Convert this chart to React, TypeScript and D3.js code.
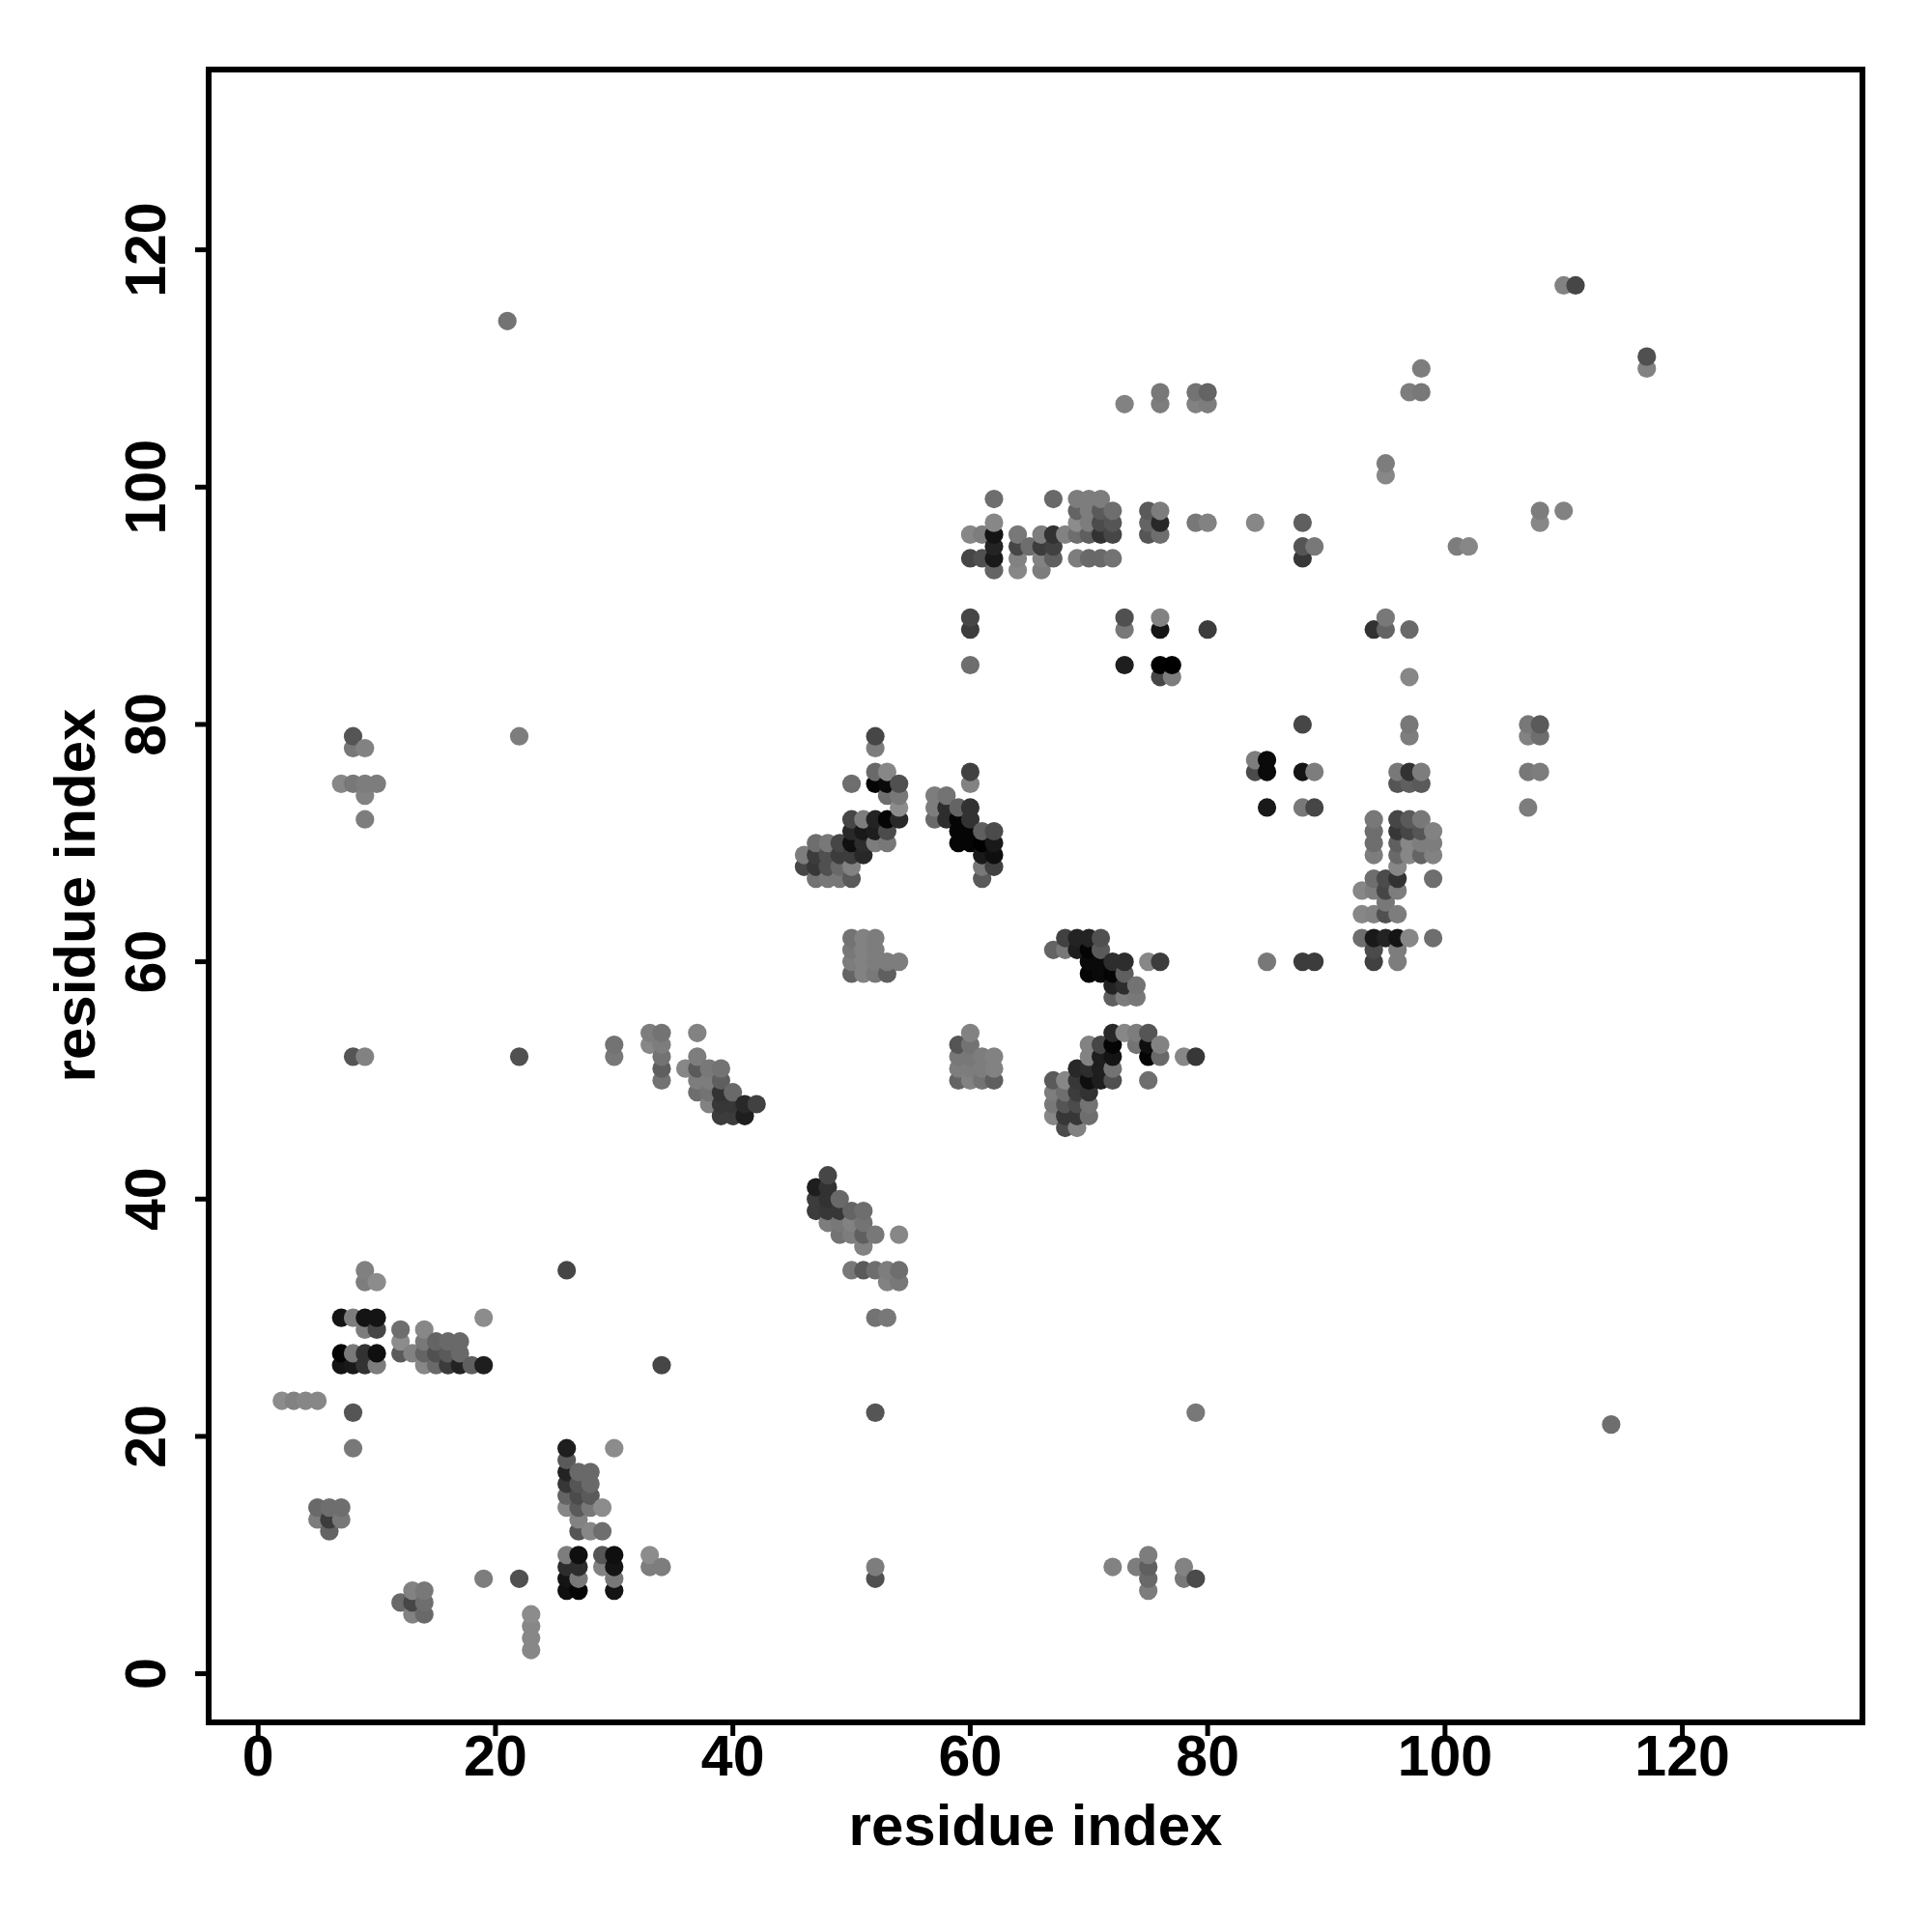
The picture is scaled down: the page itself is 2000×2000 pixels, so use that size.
import React from "react";
import * as d3 from "d3";

type P = [number, number, number];

const lowerLeft: P[] = [
  [9,34,128],[9,33,125],[10,33,140],[7,30,20],[8,30,125],[9,30,20],[10,30,20],[9,29,125],[10,29,70],
  [7,27,5],[8,27,120],[9,27,50],[10,27,15],[7,26,20],[8,26,25],[9,26,50],[10,26,125],
  [12,29,110],[12,28,140],[12,27,90],[13,27,130],[14,29,135],[14,28,120],[14,27,100],[14,26,135],
  [15,28,100],[15,27,80],[15,26,105],[16,28,105],[16,27,90],[16,26,60],[17,28,105],[17,27,105],[17,26,35],
  [18,26,95],[19,30,140],[19,26,30],[34,26,70],[26,34,70],[2,23,140],[3,23,130],[4,23,135],[5,23,135],
  [8,22,85],[8,19,120],[5,14,105],[6,14,110],[7,14,110],[5,13,125],[6,13,60],[7,13,120],[6,12,100],
  [26,19,30],[26,18,90],[26,17,35],[26,16,55],[26,15,100],[26,14,135],
  [27,17,105],[27,16,85],[27,15,75],[27,14,90],[27,13,130],[27,12,85],
  [28,17,105],[28,16,105],[28,15,90],[28,14,120],[28,12,135],[29,14,140],[29,12,110],[30,19,140],
  [26,10,125],[27,10,15],[29,10,85],[30,10,15],[26,9,45],[27,9,45],[29,9,130],[30,9,20],
  [26,8,20],[27,8,120],[30,8,120],[19,8,125],[22,8,80],[26,7,15],[27,7,5],[30,7,20],
  [33,10,140],[33,9,125],[34,9,125],[13,7,130],[14,7,120],[12,6,105],[13,6,70],[14,6,110],[13,5,130],[14,5,105],
  [23,5,140],[23,4,135],[23,3,135],[23,2,135],
];

const middleDiagonal: P[] = [
  [30,53,115],[30,52,120],[33,54,125],[34,54,115],[33,53,135],[34,53,125],[34,52,115],[34,51,95],[34,50,115],
  [37,54,130],[37,52,125],[36,51,135],[37,51,90],[38,51,120],[39,51,115],[37,50,125],[38,50,125],[39,50,95],
  [37,49,110],[38,49,115],[39,49,50],[40,49,105],[38,48,130],[39,48,55],[40,48,55],[41,48,40],[42,48,65],
  [39,47,60],[40,47,60],[41,47,30],[48,42,70],[47,41,30],[48,41,50],[47,40,60],[48,40,50],[49,40,105],
  [47,39,60],[48,39,55],[49,39,55],[50,39,100],[51,39,110],[48,38,125],[49,38,120],[50,38,130],[51,38,115],
  [49,37,115],[50,37,125],[51,37,95],[52,37,120],[54,37,135],[51,36,130],
  [50,34,120],[51,34,90],[52,34,110],[53,34,125],[54,34,110],[53,33,130],[54,33,120],[52,30,115],[53,30,120],
];

const centreBlocks: P[] = [
  [60,54,130],[59,53,85],[60,53,115],[59,52,120],[60,52,120],[61,52,125],[62,52,130],
  [59,51,125],[60,51,125],[61,51,125],[62,51,130],[59,50,100],[60,50,130],[61,50,115],[62,50,95],
  [50,62,115],[51,62,130],[52,62,125],[50,61,120],[51,61,130],[52,61,125],
  [50,60,125],[51,60,130],[52,60,125],[53,60,125],[54,60,125],[50,59,100],[51,59,130],[52,59,120],[53,59,95],
  [68,62,65],[69,62,35],[70,62,35],[71,62,80],[67,61,100],[68,61,120],[69,61,30],[70,61,5],[71,61,90],
  [70,60,10],[71,60,10],[72,60,45],[73,60,45],[75,60,135],[76,60,60],[70,59,5],[71,59,10],[72,59,5],[73,59,95],
  [72,58,35],[73,58,45],[74,58,115],[72,57,95],[73,57,125],[74,57,120],
  [72,54,40],[73,54,135],[74,54,125],[75,54,85],[70,53,130],[71,53,70],[72,53,5],[74,53,115],[75,53,15],[76,53,130],
  [70,52,130],[71,52,30],[72,52,20],[75,52,5],[76,52,105],[78,52,135],[79,52,55],
  [69,51,40],[70,51,45],[71,51,30],[72,51,115],[67,50,90],[68,50,135],[69,50,55],[70,50,15],[71,50,30],[72,50,80],[75,50,110],
  [67,49,125],[68,49,110],[69,49,60],[70,49,50],[67,48,120],[68,48,85],[69,48,75],[70,48,115],
  [67,47,135],[68,47,55],[69,47,55],[70,47,110],[68,46,75],[69,46,130],
];

const upperDiagonal: P[] = [
  [52,79,70],[52,78,125],[52,76,105],[53,76,135],[50,75,110],[52,75,5],[53,75,10],[54,75,80],[53,74,110],[54,74,120],[54,73,140],
  [50,72,70],[51,72,125],[52,72,35],[53,72,5],[54,72,40],[50,71,40],[51,71,25],[52,71,30],[53,71,75],
  [47,70,110],[48,70,120],[49,70,70],[50,70,15],[51,70,45],[52,70,125],[53,70,120],
  [46,69,125],[47,69,60],[48,69,80],[49,69,60],[50,69,60],[51,69,40],[46,68,70],[47,68,55],[48,68,80],[49,68,105],[50,68,130],
  [47,67,115],[48,67,120],[49,67,120],[50,67,90],
  [60,76,65],[60,75,130],[57,74,125],[58,74,115],[57,73,125],[58,73,45],[59,73,100],[60,73,50],
  [57,72,105],[58,72,45],[59,72,5],[60,72,50],[59,71,5],[60,71,5],[61,71,95],[62,71,75],
  [59,70,5],[60,70,5],[61,70,0],[62,70,25],[61,69,25],[62,69,15],[61,68,120],[62,68,65],[61,67,90],
];

const upperBand: P[] = [
  [62,99,110],[67,99,105],[69,99,125],[70,99,125],[71,99,125],[69,98,100],[70,98,125],[71,98,90],[72,98,110],[75,98,90],[76,98,125],
  [62,97,135],[69,97,140],[70,97,125],[71,97,75],[72,97,85],[75,97,100],[76,97,40],[79,97,120],[80,97,130],[84,97,135],[88,97,95],
  [60,96,135],[61,96,125],[62,96,20],[64,96,120],[66,96,125],[67,96,50],[68,96,130],[69,96,110],[70,96,95],[71,96,50],[72,96,70],[75,96,85],[76,96,110],
  [62,95,35],[64,95,70],[65,95,110],[66,95,60],[67,95,65],[88,95,85],[89,95,120],
  [60,94,70],[61,94,80],[62,94,25],[64,94,130],[66,94,130],[67,94,95],[69,94,125],[70,94,105],[71,94,105],[72,94,115],[88,94,55],
  [62,93,100],[64,93,135],[66,93,125],[60,89,70],[60,88,60],[73,89,80],[73,88,120],[76,89,130],[76,88,20],[80,88,60],
  [60,85,110],[73,85,30],[76,85,0],[77,85,0],[76,84,70],[77,84,125],
];

const rightColumn: P[] = [
  [97,80,120],[97,79,125],[96,76,120],[97,76,50],[98,76,125],[96,75,85],[97,75,95],[98,75,90],
  [94,72,120],[96,72,70],[97,72,90],[98,72,120],[94,71,110],[96,71,55],[97,71,70],[98,71,85],[99,71,130],
  [94,70,110],[96,70,95],[97,70,135],[98,70,125],[99,70,125],[94,69,125],[96,69,105],[97,69,135],[98,69,100],[99,69,130],
  [96,68,135],[94,67,110],[95,67,75],[96,67,50],[99,67,110],[93,66,135],[94,66,125],[95,66,70],[96,66,125],[95,65,120],
  [93,64,135],[94,64,130],[95,64,80],[96,64,125],[93,62,110],[94,62,25],[95,62,35],[96,62,20],[97,62,135],[99,62,110],
  [94,61,75],[96,61,125],[94,60,65],[96,60,125],
];

const scattered: P[] = [
  [21,114,115],[22,79,125],[8,79,85],[8,78,120],[9,78,130],[7,75,135],[8,75,120],[9,75,125],[10,75,125],[9,74,130],[9,72,125],
  [8,52,85],[9,52,130],[22,52,80],[85,60,120],[88,60,60],[89,60,60],
  [84,77,125],[85,77,10],[84,76,75],[85,76,10],[88,76,20],[89,76,125],[85,73,25],[88,73,120],[89,73,70],[88,80,70],
  [107,80,120],[108,80,90],[107,79,130],[108,79,110],[107,76,120],[108,76,125],[107,73,125],
  [110,98,130],[108,98,125],[108,97,135],[101,95,125],[102,95,135],[95,102,125],[95,101,135],[98,110,125],[97,108,125],[98,108,120],
  [73,107,130],[76,108,120],[76,107,125],[79,108,115],[80,108,100],[79,107,130],[80,107,125],
  [110,117,130],[111,117,70],[117,111,80],[117,110,130],
  [94,88,50],[95,88,100],[95,89,120],[97,88,105],[97,84,135],
  [52,22,85],[79,22,120],[114,21,110],[52,9,125],[52,8,80],
  [72,9,130],[74,9,125],[75,10,125],[75,9,95],[75,8,105],[75,7,125],[78,9,130],[78,8,120],[79,8,75],
];

const tickValues = [0, 20, 40, 60, 80, 100, 120];
const axisLabel = "residue index";
const font = '"Liberation Sans", Arial, sans-serif';

const points = [...lowerLeft, ...middleDiagonal, ...centreBlocks, ...upperDiagonal, ...upperBand, ...rightColumn, ...scattered]
  .slice()
  .sort((a, b) => d3.ascending(a[0], b[0]) || d3.ascending(a[1], b[1]));

const left = 216, right = 1928, top = 72, bottom = 1783;
const xScale = d3.scaleLinear().domain([0, 120]).range([267.2, 1741.6]);
const yScale = d3.scaleLinear().domain([0, 120]).range([1732.6, 258.6]);

export default function App() {
  return (
    <svg width={2000} height={2000} style={{ position: "absolute", left: 0, top: 0, background: "#fff" }} fontFamily={font} fontWeight="bold" fill="#000">
      {points.map(([x, y, g], i) => (
        <circle key={i} cx={xScale(x)} cy={yScale(y)} r={9.6} fill={d3.rgb(g, g, g).formatHex()} />
      ))}
      <rect x={left} y={top} width={right - left} height={bottom - top} fill="none" stroke="#000" strokeWidth={6} />
      {tickValues.map((t) => (
        <g key={t}>
          <line x1={xScale(t)} x2={xScale(t)} y1={bottom} y2={bottom + 14} stroke="#000" strokeWidth={5} />
          <text x={xScale(t)} y={1838} textAnchor="middle" fontSize={59}>{t}</text>
          <line x1={left} x2={left - 14} y1={yScale(t)} y2={yScale(t)} stroke="#000" strokeWidth={5} />
          <text transform={`translate(171 ${yScale(t)}) rotate(-90)`} textAnchor="middle" fontSize={59}>{t}</text>
        </g>
      ))}
      <text x={1072} y={1910} textAnchor="middle" fontSize={60}>{axisLabel}</text>
      <text transform={`translate(98 927) rotate(-90)`} textAnchor="middle" fontSize={60}>{axisLabel}</text>
    </svg>
  );
}
